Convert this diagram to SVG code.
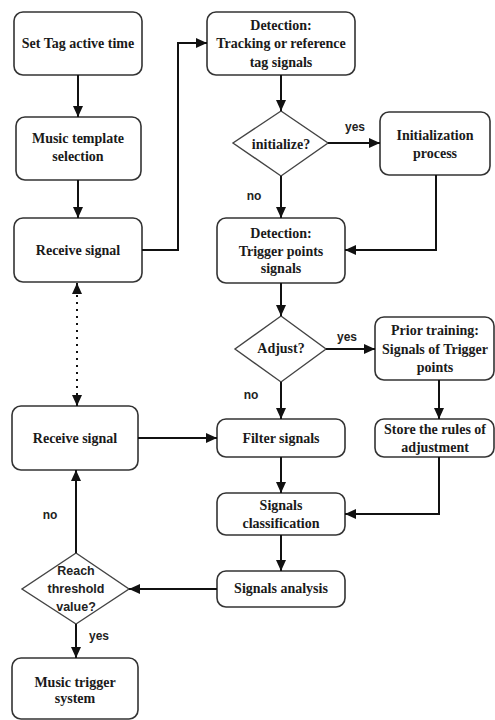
<svg xmlns="http://www.w3.org/2000/svg" width="495" height="720" viewBox="0 0 495 720">
<defs>
<marker id="ah" markerUnits="userSpaceOnUse" markerWidth="12" markerHeight="10" refX="11" refY="5" orient="auto">
<path d="M0,0 L11,5 L0,10 Z" fill="#111"/>
</marker>
<style>
.box{fill:#fff;stroke:#333;stroke-width:1.6}
.dia{fill:#fff;stroke:#444;stroke-width:1.4}
.t{font-family:"Liberation Serif","Times New Roman",serif;font-weight:bold;font-size:14px;fill:#1a1a1a;text-anchor:middle}
.s{font-family:"Liberation Sans",Arial,sans-serif;font-weight:bold;font-size:12.5px;fill:#222;text-anchor:middle}
.l{font-family:"Liberation Sans",Arial,sans-serif;font-weight:bold;font-size:12px;fill:#222;text-anchor:middle}
.c{fill:none;stroke:#111;stroke-width:2}
.d{fill:none;stroke:#111;stroke-width:2;stroke-dasharray:2 5}
</style>
</defs>
<rect width="495" height="720" fill="#fff"/>
<g id="n_settag"><rect class="box" x="14" y="12" width="128" height="63" rx="9"/><text class="t" x="78" y="48">Set Tag active time</text></g>
<g id="n_music"><rect class="box" x="16" y="117" width="125" height="63" rx="9"/><text class="t" x="78" y="143">Music template</text><text class="t" x="78" y="161">selection</text></g>
<g id="n_recv1"><rect class="box" x="14" y="218" width="128" height="64" rx="9"/><text class="t" x="78" y="255">Receive signal</text></g>
<g id="n_det1"><rect class="box" x="207" y="12" width="148" height="63" rx="9"/><text class="t" x="281" y="30">Detection:</text><text class="t" x="281" y="48">Tracking or reference</text><text class="t" x="281" y="67">tag signals</text></g>
<g id="n_init"><polygon class="dia" points="281,111 328,143 281,176 233,143"/><text class="t" x="281" y="149">initialize?</text></g>
<g id="n_initproc"><rect class="box" x="380" y="112" width="110" height="63" rx="9"/><text class="t" x="435" y="140">Initialization</text><text class="t" x="435" y="158">process</text></g>
<g id="n_det2"><rect class="box" x="217" y="218" width="128" height="65" rx="9"/><text class="t" x="281" y="238">Detection:</text><text class="t" x="281" y="256">Trigger points</text><text class="t" x="281" y="273">signals</text></g>
<g id="n_adjust"><polygon class="dia" points="281,316 326,349 281,382 235,349"/><text class="t" x="281" y="353">Adjust?</text></g>
<g id="n_prior"><rect class="box" x="375" y="317" width="119" height="63" rx="9"/><text class="t" x="435" y="335">Prior training:</text><text class="t" x="435" y="354">Signals of Trigger</text><text class="t" x="435" y="372">points</text></g>
<g id="n_store"><rect class="box" x="375" y="419" width="119" height="38" rx="9"/><text class="t" x="435" y="434">Store the rules of</text><text class="t" x="435" y="452">adjustment</text></g>
<g id="n_recv2"><rect class="box" x="12" y="406" width="126" height="64" rx="9"/><text class="t" x="75" y="443">Receive signal</text></g>
<g id="n_filter"><rect class="box" x="217" y="419" width="128" height="38" rx="9"/><text class="t" x="281" y="443">Filter signals</text></g>
<g id="n_class"><rect class="box" x="217" y="493" width="128" height="42" rx="9"/><text class="t" x="281" y="510">Signals</text><text class="t" x="281" y="528">classification</text></g>
<g id="n_anal"><rect class="box" x="217" y="571" width="128" height="36" rx="9"/><text class="t" x="281" y="593">Signals analysis</text></g>
<g id="n_reach"><polygon class="dia" points="76,553 129,589 76,624 22,589"/><text class="s" x="76" y="575">Reach</text><text class="s" x="76" y="593">threshold</text><text class="s" x="76" y="611">value?</text></g>
<g id="n_trigger"><rect class="box" x="12" y="658" width="126" height="61" rx="9"/><text class="t" x="75" y="687">Music trigger</text><text class="t" x="75" y="703">system</text></g>
<g id="connectors">
<path class="c" d="M78,75 V117" marker-end="url(#ah)"/>
<path class="c" d="M78,180 V218" marker-end="url(#ah)"/>
<path class="c" d="M142,250 H178 V43 H207" marker-end="url(#ah)"/>
<path class="c" d="M281,75 V111" marker-end="url(#ah)"/>
<path class="c" d="M328,143 H380" marker-end="url(#ah)"/>
<path class="c" d="M281,176 V218" marker-end="url(#ah)"/>
<path class="c" d="M436,175 V250 H345" marker-end="url(#ah)"/>
<path class="c" d="M281,283 V316" marker-end="url(#ah)"/>
<path class="c" d="M326,349 H375" marker-end="url(#ah)"/>
<path class="c" d="M439,380 V419" marker-end="url(#ah)"/>
<path class="c" d="M281,382 V419" marker-end="url(#ah)"/>
<path class="c" d="M138,438 H217" marker-end="url(#ah)"/>
<path class="d" d="M77,295 V395"/>
<path class="c" d="M77,293 V283" marker-end="url(#ah)"/>
<path class="c" d="M77,396 V406" marker-end="url(#ah)"/>
<path class="c" d="M281,457 V493" marker-end="url(#ah)"/>
<path class="c" d="M439,457 V514 H345" marker-end="url(#ah)"/>
<path class="c" d="M281,535 V571" marker-end="url(#ah)"/>
<path class="c" d="M217,589 H129" marker-end="url(#ah)"/>
<path class="c" d="M76,553 V470" marker-end="url(#ah)"/>
<path class="c" d="M76,624 V658" marker-end="url(#ah)"/>
<text class="l" x="355" y="131">yes</text>
<text class="l" x="254" y="200">no</text>
<text class="l" x="347" y="341">yes</text>
<text class="l" x="251" y="399">no</text>
<text class="l" x="50" y="519">no</text>
<text class="l" x="99" y="640">yes</text>
</g>
</svg>
